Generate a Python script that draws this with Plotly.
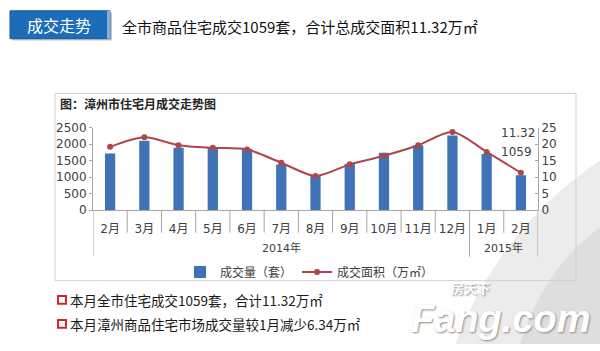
import plotly.graph_objects as go

W, H = 600, 351

months = ["2月", "3月", "4月", "5月", "6月", "7月", "8月", "9月", "10月", "11月", "12月", "1月", "2月"]
years = ["2014年", "2015年"]
year_counts = [11, 2]
volume = [1715, 2105, 1890, 1885, 1860, 1385, 1040, 1405, 1745, 1965, 2260, 1700, 1059]
area = [19.2, 22.1, 19.7, 18.9, 18.4, 14.4, 10.4, 13.9, 16.5, 19.7, 23.7, 17.66, 11.32]
left_ticks = [0, 500, 1000, 1500, 2000, 2500]
right_ticks = [0, 5, 10, 15, 20, 25]

def px(x):
    return x / W

def py(y):
    return 1 - y / H

NUM = "DejaVu Sans, Noto Sans CJK SC, sans-serif"
CJK = "Noto Sans CJK SC, sans-serif"
AX = "#a6a6a6"
TXT = "#404040"

xs = list(range(len(months)))

fig = go.Figure()
fig.add_trace(go.Bar(
    x=xs, y=volume, name="成交量（套）", width=0.3,
    marker=dict(color="#3f73b5", line=dict(width=0)),
))
fig.add_trace(go.Scatter(
    x=xs, y=area, name="成交面积（万㎡）", yaxis="y2", mode="lines+markers",
    line=dict(color="#b0454a", width=2, shape="spline", smoothing=0.8),
    marker=dict(color="#b0454a", size=6),
))

x0, x1 = 93, 538
ytop, ybot = 125.7, 211.7

shapes = []
annos = []

# background watermark
shapes.append(dict(type="path", xref="paper", yref="paper", layer="below",
                   path=f"M {px(455)},{py(351)} Q {px(500)},{py(230)} {px(600)},{py(160)} L {px(600)},{py(351)} Z",
                   fillcolor="#ececec", line=dict(width=0)))
shapes.append(dict(type="path", xref="paper", yref="paper", layer="below",
                   path=f"M {px(520)},{py(351)} Q {px(545)},{py(270)} {px(600)},{py(230)} L {px(600)},{py(351)} Z",
                   fillcolor="#dedede", line=dict(width=0)))

# header box
shapes.append(dict(type="rect", xref="paper", yref="paper", x0=px(12), x1=px(112), y0=py(35), y1=py(6),
                   fillcolor="#c8c8c8", line=dict(width=0)))
shapes.append(dict(type="rect", xref="paper", yref="paper", x0=px(10), x1=px(110), y0=py(33), y1=py(4),
                   fillcolor="#1c6cb7", line=dict(color="#155a9c", width=1)))
shapes.append(dict(type="rect", xref="paper", yref="paper", x0=px(107), x1=px(110), y0=py(33), y1=py(4),
                   fillcolor="#7fb2e0", line=dict(width=0)))
annos.append(dict(text="成交走势", xref="paper", yref="paper", x=px(59), y=py(19), showarrow=False,
                  xanchor="center", yanchor="middle", font=dict(family=CJK, size=16, color="white")))
annos.append(dict(text="全市商品住宅成交1059套，合计总成交面积11.32万㎡", xref="paper", yref="paper",
                  x=px(120), y=py(20), showarrow=False, xanchor="left", yanchor="middle",
                  font=dict(family=CJK, size=15, color="#111111")))

# chart frame
shapes.append(dict(type="rect", xref="paper", yref="paper", x0=px(55), x1=px(576), y0=py(285), y1=py(90),
                   fillcolor="rgba(0,0,0,0)", line=dict(color="#cfcfcf", width=1)))
annos.append(dict(text="<b>图：漳州市住宅月成交走势图</b>", xref="paper", yref="paper", x=px(58), y=py(100),
                  showarrow=False, xanchor="left", yanchor="middle",
                  font=dict(family=CJK, size=12, color="#262626")))

# category separators
n = len(months)
for k in range(n + 1):
    xb = k - 0.5
    long = xb in (-0.5, year_counts[0] - 0.5, n - 0.5)
    shapes.append(dict(type="line", xref="x", yref="paper", x0=xb, x1=xb, y0=py(ybot),
                       y1=py(260 if long else 235), line=dict(color=AX, width=1)))

start = 0
for yr, c in zip(years, year_counts):
    mid = start + (c - 1) / 2
    annos.append(dict(text=yr, xref="x", yref="paper", x=mid, y=py(251), showarrow=False,
                      xanchor="center", yanchor="middle", font=dict(family=NUM, size=11, color=TXT)))
    start += c

# value labels near right axis
annos.append(dict(text=f"{area[-1]:.2f}", xref="paper", yref="paper", x=px(518), y=py(131), showarrow=False,
                  xanchor="center", yanchor="middle", font=dict(family=NUM, size=12, color=TXT)))
annos.append(dict(text=f"{volume[-1]}", xref="paper", yref="paper", x=px(516), y=py(151), showarrow=False,
                  xanchor="center", yanchor="middle", font=dict(family=NUM, size=12, color=TXT)))

# bottom notes
notes = ["本月全市住宅成交1059套，合计11.32万㎡", "本月漳州商品住宅市场成交量较1月减少6.34万㎡"]
for i, t in enumerate(notes):
    yc = 305 + i * 25
    shapes.append(dict(type="rect", xref="paper", yref="paper", x0=px(58), x1=px(66), y0=py(yc + 4),
                       y1=py(yc - 4), fillcolor="white", line=dict(color="#cc2b2b", width=2)))
    annos.append(dict(text=t, xref="paper", yref="paper", x=px(68), y=py(yc), showarrow=False,
                      xanchor="left", yanchor="middle", font=dict(family=CJK, size=13.5, color="#1a1a1a")))

# watermark logo
annos.append(dict(text="<b>房天下</b>", xref="paper", yref="paper", x=px(470), y=py(292), showarrow=False,
                  xanchor="center", yanchor="middle",
                  font=dict(family=CJK, size=13, color="white", shadow="1px 1px 2px #8a8a8a")))
annos.append(dict(text="<i><b>Fang.com</b></i>", xref="paper", yref="paper", x=px(500), y=py(301), showarrow=False,
                  xanchor="center", yanchor="top",
                  font=dict(family="Liberation Sans, sans-serif", size=38, color="white",
                            shadow="1px 1px 2px #8a8a8a")))

fig.update_layout(
    width=W, height=H, margin=dict(l=0, r=0, t=0, b=0),
    paper_bgcolor="white", plot_bgcolor="rgba(0,0,0,0)",
    shapes=shapes, annotations=annos,
    bargap=0.7,
    xaxis=dict(domain=[px(x0), px(x1)], range=[-0.5, n - 0.5], tickmode="array", tickvals=xs, ticktext=months,
               showline=True, linecolor=AX, linewidth=1, ticks="", showgrid=False, zeroline=False,
               tickfont=dict(family=NUM, size=12, color=TXT), ticklabelstandoff=7, fixedrange=True),
    yaxis=dict(domain=[py(ybot), py(ytop)], range=[0, 2500], tickvals=left_ticks, showgrid=False, zeroline=False,
               showline=True, linecolor=AX, linewidth=1, ticks="outside", ticklen=3, tickcolor=AX,
               tickfont=dict(family=NUM, size=12, color=TXT)),
    yaxis2=dict(domain=[py(ybot), py(ytop)], range=[0, 25], tickvals=right_ticks, overlaying="y", side="right",
                anchor="x", showgrid=False, zeroline=False, showline=True, linecolor=AX, linewidth=1,
                ticks="inside", ticklen=3, tickcolor=AX, tickfont=dict(family=NUM, size=12, color=TXT)),
    legend=dict(orientation="h", x=px(180), y=py(276), xanchor="left", yanchor="middle",
                font=dict(family=CJK, size=12, color=TXT), bgcolor="rgba(0,0,0,0)", itemwidth=30),
    showlegend=True,
)

fig.write_html("out.html")
